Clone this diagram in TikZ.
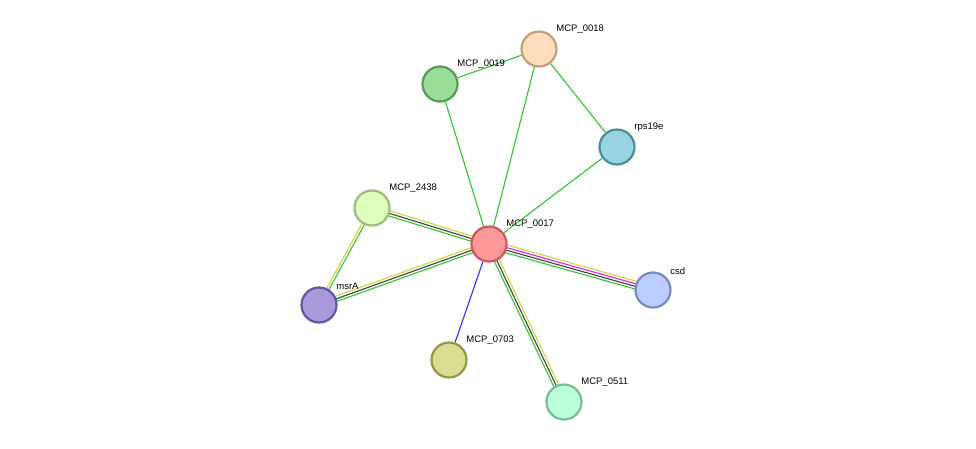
\documentclass[tikz,border=0pt]{standalone}
\usepackage{fontspec}
\setmainfont{Liberation Sans}
\usetikzlibrary{calc,backgrounds}
\definecolor{egreen}{HTML}{33C233}
\definecolor{eyellow}{HTML}{C8D840}
\definecolor{egray}{HTML}{404040}
\definecolor{epink}{HTML}{E020E0}
\definecolor{eblue}{HTML}{3030F0}
\definecolor{f17}{HTML}{FF9999}\definecolor{b17}{HTML}{C85A5A}
\definecolor{f18}{HTML}{FFDDBB}\definecolor{b18}{HTML}{BFA07F}
\definecolor{f19}{HTML}{99DD99}\definecolor{b19}{HTML}{5A9A5A}
\definecolor{frps}{HTML}{99D5E0}\definecolor{brps}{HTML}{4E8C9A}
\definecolor{f2438}{HTML}{DDFFBB}\definecolor{b2438}{HTML}{9BBB7E}
\definecolor{fmsra}{HTML}{AA99DD}\definecolor{bmsra}{HTML}{6655A0}
\definecolor{fcsd}{HTML}{BBCCFF}\definecolor{bcsd}{HTML}{7A8ABB}
\definecolor{f703}{HTML}{D8DD90}\definecolor{b703}{HTML}{8E9A4A}
\definecolor{f511}{HTML}{BBFFDD}\definecolor{b511}{HTML}{7ABB9A}
\tikzset{
  prot/.style={circle,draw=b#1,fill=f#1,line width=2.2pt,minimum size=35pt,inner sep=0pt},
  lbl/.style={font=\fontsize{9.5}{11}\selectfont,inner sep=0pt,anchor=south west,xshift=4pt,yshift=2pt},
}
% edge of several parallel lines: from, to, count, colours
\newcommand{\multiedge}[4]{
  \foreach \ec [count=\ei] in {#4} {
    \pgfmathsetmacro{\eo}{(\ei-(#3+1)/2)*2.6}
    \draw[\ec,line width=1.1pt] ($(#1)!\eo pt!90:(#2)$) -- ($(#2)!\eo pt!-90:(#1)$);
  }
}
\begin{document}
\begin{tikzpicture}[x=1pt,y=-1pt]
\useasboundingbox (0,0) rectangle (976,448);
\node[prot=17, label={[lbl]45:MCP\_0017}] (p17) at (489,244) {};
\node[prot=18, label={[lbl]45:MCP\_0018}] (p18) at (539,49) {};
\node[prot=19, label={[lbl]45:MCP\_0019}] (p19) at (440,84) {};
\node[prot=rps, label={[lbl]45:rps19e}] (rps) at (617,147) {};
\node[prot=2438, label={[lbl]45:MCP\_2438}] (p2438) at (372,208) {};
\node[prot=msra, label={[lbl]45:msrA}] (msra) at (319,305) {};
\node[prot=csd, label={[lbl]45:csd}] (csd) at (653,290) {};
\node[prot=703, label={[lbl]45:MCP\_0703}] (p703) at (449,360) {};
\node[prot=511, label={[lbl]45:MCP\_0511}] (p511) at (564,402) {};

\begin{scope}[on background layer]
  \draw[egreen,line width=1.1pt] (p19) -- (p18);
  \draw[egreen,line width=1.1pt] (p18) -- (rps);
  \draw[egreen,line width=1.1pt] (p17) -- (p19);
  \draw[egreen,line width=1.1pt] (p17) -- (p18);
  \draw[egreen,line width=1.1pt] (p17) -- (rps);
  \draw[eblue,line width=1.1pt] (p17) -- (p703);
  \multiedge{p2438}{p17}{3}{egreen,egray,eyellow}
  \multiedge{p17}{msra}{3}{eyellow,egray,egreen}
  \multiedge{p17}{csd}{4}{egreen,egray,epink,eyellow}
  \multiedge{p511}{p17}{3}{eyellow,egray,egreen}
  \multiedge{p2438}{msra}{2}{eyellow,egreen}
\end{scope}
\end{tikzpicture}
\end{document}
